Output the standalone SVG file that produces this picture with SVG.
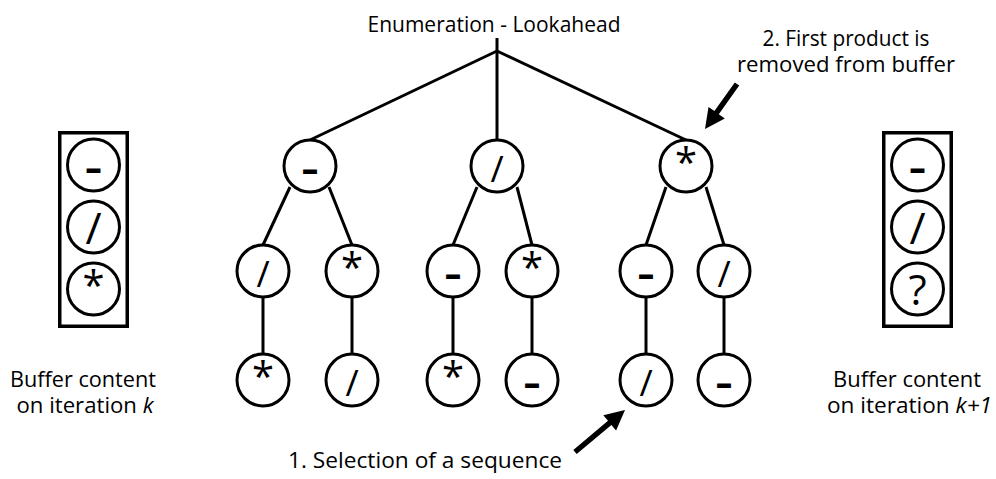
<svg xmlns="http://www.w3.org/2000/svg" width="996" height="479" viewBox="0 0 996 479">
<style>
.lbl{font-family:"Open Sans","Noto Sans","Liberation Sans",sans-serif;font-size:22px;fill:#000}
.mid{text-anchor:middle}
.sym{font-family:"Open Sans","Noto Sans","Liberation Sans",sans-serif;text-anchor:middle;fill:#000}
.hy{font-size:36px;font-weight:bold}
.sl{font-size:36px}
.as{font-size:40px}
.bsl{font-size:44px}
.bq{font-size:42px}
.nd{fill:#fff;stroke:#000;stroke-width:3}
.box{fill:#fff;stroke:#000;stroke-width:3.5}
.edge{stroke:#000;stroke-width:3;fill:none}
.arr{fill:#000}
</style>
<rect width="996" height="479" fill="#fff"/>

<g id="connectors">
<line class="edge" x1="497" y1="38" x2="497" y2="51"/>
<line class="edge" x1="497" y1="51" x2="310" y2="140"/>
<line class="edge" x1="497" y1="51" x2="497" y2="140"/>
<line class="edge" x1="497" y1="51" x2="686" y2="140"/>
<line class="edge" x1="290" y1="187" x2="263" y2="245"/>
<line class="edge" x1="329" y1="187" x2="352" y2="245"/>
<line class="edge" x1="477" y1="187" x2="453" y2="245"/>
<line class="edge" x1="517" y1="187" x2="532" y2="245"/>
<line class="edge" x1="666" y1="187" x2="646" y2="245"/>
<line class="edge" x1="706" y1="187" x2="724" y2="245"/>
<line class="edge" x1="263" y1="297" x2="263" y2="354"/>
<line class="edge" x1="352" y1="297" x2="352" y2="354"/>
<line class="edge" x1="453" y1="297" x2="453" y2="354"/>
<line class="edge" x1="532" y1="297" x2="532" y2="354"/>
<line class="edge" x1="646" y1="297" x2="646" y2="354"/>
<line class="edge" x1="724" y1="297" x2="724" y2="354"/>
</g>

<text class="lbl mid" x="494" y="32" textLength="253" lengthAdjust="spacingAndGlyphs">Enumeration - Lookahead</text>

<g id="bufferK">
<rect class="box" x="59.75" y="132.75" width="67.5" height="193.5"/>
<circle class="nd" cx="93.5" cy="165" r="26"/>
<text class="sym hy" x="93.5" y="180" textLength="17" lengthAdjust="spacingAndGlyphs">-</text>
<circle class="nd" cx="93.5" cy="227" r="26"/>
<text class="sym bsl" x="93.5" y="244">/</text>
<circle class="nd" cx="93.5" cy="289" r="26"/>
<text class="sym as" x="93.5" y="300">*</text>
</g>

<g id="bufferK1">
<rect class="box" x="883.75" y="132.75" width="67.5" height="193.5"/>
<circle class="nd" cx="917.5" cy="165" r="26"/>
<text class="sym hy" x="917.5" y="180" textLength="17" lengthAdjust="spacingAndGlyphs">-</text>
<circle class="nd" cx="917.5" cy="227" r="26"/>
<text class="sym bsl" x="917.5" y="244">/</text>
<circle class="nd" cx="917.5" cy="289" r="26"/>
<text class="sym bq" x="917.5" y="305">?</text>
</g>

<g id="n1"><circle class="nd" cx="310" cy="166" r="26"/><text class="sym hy" x="310" y="181" textLength="17" lengthAdjust="spacingAndGlyphs">-</text></g>
<g id="n2"><circle class="nd" cx="497" cy="166" r="26"/><text class="sym sl" x="497" y="182">/</text></g>
<g id="n3"><circle class="nd" cx="686" cy="166" r="26"/><text class="sym as" x="686" y="177">*</text></g>

<g id="n11"><circle class="nd" cx="263" cy="271" r="26"/><text class="sym sl" x="263" y="287">/</text></g>
<g id="n12"><circle class="nd" cx="352" cy="271" r="26"/><text class="sym as" x="352" y="282">*</text></g>
<g id="n21"><circle class="nd" cx="453" cy="271" r="26"/><text class="sym hy" x="453" y="286" textLength="17" lengthAdjust="spacingAndGlyphs">-</text></g>
<g id="n22"><circle class="nd" cx="532" cy="271" r="26"/><text class="sym as" x="532" y="282">*</text></g>
<g id="n31"><circle class="nd" cx="646" cy="271" r="26"/><text class="sym hy" x="646" y="286" textLength="17" lengthAdjust="spacingAndGlyphs">-</text></g>
<g id="n32"><circle class="nd" cx="724" cy="271" r="26"/><text class="sym sl" x="724" y="287">/</text></g>

<g id="n111"><circle class="nd" cx="263" cy="380" r="26"/><text class="sym as" x="263" y="391">*</text></g>
<g id="n121"><circle class="nd" cx="352" cy="380" r="26"/><text class="sym sl" x="352" y="396">/</text></g>
<g id="n211"><circle class="nd" cx="453" cy="380" r="26"/><text class="sym as" x="453" y="391">*</text></g>
<g id="n221"><circle class="nd" cx="532" cy="380" r="26"/><text class="sym hy" x="532" y="395" textLength="17" lengthAdjust="spacingAndGlyphs">-</text></g>
<g id="n311"><circle class="nd" cx="646" cy="380" r="26"/><text class="sym sl" x="646" y="396">/</text></g>
<g id="n321"><circle class="nd" cx="724" cy="380" r="26"/><text class="sym hy" x="724" y="395" textLength="17" lengthAdjust="spacingAndGlyphs">-</text></g>

<g id="arrows">
<polygon class="arr" points="573.3,449.9 608.0,420.8 603.3,415.2 625,410 616.1,430.6 611.4,425.0 576.7,454.1"/>
<polygon class="arr" points="734.8,82.4 714.4,111.1 708.5,106.9 705,129 724.8,118.5 718.8,114.3 739.2,85.6"/>
</g>

<text class="lbl mid" x="846" y="46" textLength="167" lengthAdjust="spacingAndGlyphs">2. First product is</text>
<text class="lbl mid" x="846" y="72" textLength="218" lengthAdjust="spacingAndGlyphs">removed from buffer</text>
<text class="lbl mid" x="425" y="468" textLength="274" lengthAdjust="spacingAndGlyphs">1. Selection of a sequence</text>

<text class="lbl mid" x="83" y="387" textLength="146" lengthAdjust="spacingAndGlyphs">Buffer content</text>
<text class="lbl mid" x="85" y="413" textLength="137" lengthAdjust="spacingAndGlyphs">on iteration <tspan font-style="italic">k</tspan></text>
<text class="lbl mid" x="907" y="387" textLength="148" lengthAdjust="spacingAndGlyphs">Buffer content</text>
<text class="lbl mid" x="909.5" y="413" textLength="165" lengthAdjust="spacingAndGlyphs">on iteration <tspan font-style="italic">k+1</tspan></text>
</svg>
